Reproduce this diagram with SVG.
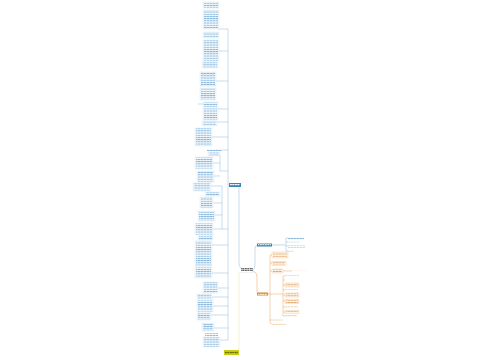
<svg xmlns="http://www.w3.org/2000/svg" width="500" height="360" viewBox="0 0 500 360">
<defs>
<pattern id="tb" x="0" y="0.6" width="3" height="2.2" patternUnits="userSpaceOnUse"><rect x="0" y="0" width="2.6" height="0.9" fill="#7fb1d8"/></pattern>
<pattern id="to" x="0" y="0.6" width="3" height="2.2" patternUnits="userSpaceOnUse"><rect x="0" y="0" width="2.6" height="0.9" fill="#e0a060"/></pattern>
<pattern id="tg" x="0" y="0" width="2.5" height="2" patternUnits="userSpaceOnUse"><rect x="0" y="0" width="2" height="1.4" fill="#666"/></pattern>
<pattern id="ty" x="0" y="0" width="2.5" height="2" patternUnits="userSpaceOnUse"><rect x="0" y="0" width="2" height="1.2" fill="#6a6a00"/></pattern>
<pattern id="tw" x="0" y="0" width="2.5" height="2" patternUnits="userSpaceOnUse"><rect x="0" y="0" width="2" height="1.2" fill="#ffffff"/></pattern>
</defs>
<style>
.bl{fill:#f3f8fc;stroke:#c3dbee;stroke-width:0.3}
.bt{fill:url(#tb)}
.ol{fill:#fff8f0;stroke:#eab27a;stroke-width:0.3}
.ot{fill:url(#to)}
.cb{fill:none;stroke:#8cb8da;stroke-width:0.5}
.co{fill:none;stroke:#e9a45c;stroke-width:0.5}
.cy{fill:none;stroke:#e8e49a;stroke-width:0.5}
</style>
<rect width="500" height="360" fill="#ffffff"/>
<g id="connectors">
<path class="cb" d="M228,29 V340"/>
<path class="cb" d="M218,29 H228 M218,51 H228 M215,81 H228 M198,104 H203 M218,109 H228 M217,122 H228 M212,137 H228 M222,150 H228 M220,155 V171 M213,163 H220 M214,176 H220 M220,171 H228 M211,186 H222 M222,186 V229 M213,203 H222 M215,215 H222 M213,229 H228 M212,245 H228 M212,273 H228 M218,288 H228 M212,297 H228 M213,306 H228 M211,315 H228 M214,328 H228 M220,340 H228"/>
<path class="cb" d="M239,187 V262 Q239,270 245,270"/>
<path class="cy" d="M239,272 V350"/>
<path class="cb" d="M252,270 Q255,270 255,262 V249 Q255,245 258,245"/>
<path class="cb" d="M272,245 H286 M286,238 V251 M286,238 H288 M286,242 H288 M286,246 H288 M286,251 H288"/>
<path class="co" d="M252,271 Q257,271 257,278 V293"/>
<path class="co" d="M268,294 H270 M270,255 V322 M270,255 H272 M270,263 H272 M270,271 H272 M283,271 H292 M270,294 H283 M283,276 V316 M283,276 H285 M283,280 H285 M283,285 H285 M283,290 H285 M283,295 H285 M283,301 H285 M283,307 H285 M283,312 H285 M283,316 H285 M270,320 H272 M270,322 Q270,324 272,324"/>
</g>
<g id="left-blocks">
<g id="b1"><rect class="bl" x="203" y="2" width="16" height="6"/><rect class="bt" x="204" y="2.5" width="14" height="5"/></g>
<g id="b2"><rect class="bl" x="203" y="10" width="16" height="19"/><rect class="bt" x="204" y="10.5" width="14" height="18"/></g>
<g id="b3"><rect class="bl" x="203" y="32" width="16" height="6"/><rect class="bt" x="204" y="32.5" width="14" height="5"/></g>
<g id="b4"><rect class="bl" x="203" y="40" width="16" height="21"/><rect class="bt" x="204" y="40.5" width="14" height="20"/></g>
<g id="b5"><rect class="bl" x="202" y="62" width="16" height="6"/><rect class="bt" x="203" y="62.5" width="14" height="5"/></g>
<g id="b6"><rect class="bl" x="200" y="72" width="16" height="14"/><rect class="bt" x="201" y="72.5" width="14" height="13"/></g>
<g id="b7"><rect class="bl" x="200" y="88" width="16" height="12"/><rect class="bt" x="201" y="88.5" width="14" height="11"/></g>
<g id="b8"><rect class="bl" x="203" y="102" width="15" height="5"/><rect class="bt" x="204" y="102.5" width="13" height="4"/></g>
<g id="b9"><rect class="bl" x="203" y="108" width="15" height="12"/><rect class="bt" x="204" y="108.5" width="13" height="11"/></g>
<g id="b10"><rect class="bl" x="202" y="121" width="15" height="5"/><rect class="bt" x="203" y="121.5" width="13" height="4"/></g>
<g id="b11"><rect class="bl" x="195" y="128" width="17" height="18"/><rect class="bt" x="196" y="128.5" width="15" height="17"/></g>
<g id="b12"><rect class="bt" x="207" y="149" width="15" height="2"/></g>
<g id="b13"><rect class="bl" x="208" y="152" width="12" height="4"/><rect class="bt" x="209" y="152.5" width="10" height="3"/></g>
<g id="b14"><rect class="bl" x="195" y="157" width="18" height="12"/><rect class="bt" x="196" y="157.5" width="16" height="11"/></g>
<g id="b15"><rect class="bl" x="197" y="171" width="17" height="11"/><rect class="bt" x="198" y="171.5" width="15" height="10"/></g>
<g id="b16"><rect class="bl" x="193" y="183" width="18" height="8"/><rect class="bt" x="194" y="183.5" width="16" height="7"/></g>
<g id="b17"><rect class="bl" x="205" y="192" width="15" height="4"/><rect class="bt" x="206" y="192.5" width="13" height="3"/></g>
<g id="b18"><rect class="bl" x="200" y="197" width="13" height="11"/><rect class="bt" x="201" y="197.5" width="11" height="10"/></g>
<g id="b19"><rect class="bl" x="198" y="211" width="17" height="10"/><rect class="bt" x="199" y="211.5" width="15" height="9"/></g>
<g id="b20"><rect class="bl" x="195" y="223" width="18" height="12"/><rect class="bt" x="196" y="223.5" width="16" height="11"/></g>
<g id="b21"><rect class="bl" x="198" y="236" width="15" height="4"/><rect class="bt" x="199" y="236.5" width="13" height="3"/></g>
<g id="b22"><rect class="bl" x="195" y="241" width="17" height="25"/><rect class="bt" x="196" y="241.5" width="15" height="24"/></g>
<g id="b23"><rect class="bl" x="195" y="267" width="17" height="11"/><rect class="bt" x="196" y="267.5" width="15" height="10"/></g>
<g id="b24"><rect class="bl" x="203" y="282" width="15" height="11"/><rect class="bt" x="204" y="282.5" width="13" height="10"/></g>
<g id="b25"><rect class="bl" x="197" y="294" width="15" height="5"/><rect class="bt" x="198" y="294.5" width="13" height="4"/></g>
<g id="b26"><rect class="bl" x="197" y="300" width="16" height="12"/><rect class="bt" x="198" y="300.5" width="14" height="11"/></g>
<g id="b27"><rect class="bl" x="197" y="313" width="14" height="7"/><rect class="bt" x="198" y="313.5" width="12" height="6"/></g>
<g id="b28"><rect class="bl" x="202" y="323" width="12" height="8"/><rect class="bt" x="203" y="323.5" width="10" height="7"/></g>
<g id="b29"><rect class="bt" x="205" y="333" width="13" height="3"/></g>
<g id="b30"><rect class="bl" x="203" y="337" width="17" height="10"/><rect class="bt" x="204" y="337.5" width="15" height="9"/></g>
</g>
<g id="node-left-root"><rect x="229" y="183" width="12" height="4" fill="#3a86b0"/><rect x="230" y="184" width="10" height="2" fill="url(#tw)"/></g>
<g id="node-center"><rect x="241" y="268" width="12" height="3" fill="url(#tg)"/><path d="M240,272.5 H255" stroke="#dddddd" stroke-width="0.4"/></g>
<g id="node-bottom"><rect x="224" y="350" width="15" height="5" fill="#c9cc17"/><rect x="225" y="351.5" width="13" height="2.4" fill="url(#ty)"/></g>
<g id="node-right-blue"><rect x="257" y="243.5" width="15" height="3" fill="#3a86b0"/><rect x="258" y="244.2" width="13" height="1.6" fill="url(#tw)"/></g>
<g id="right-blue-children">
<rect class="bt" x="273" y="244" width="11" height="1"/>
<rect class="bt" x="288" y="237.5" width="16" height="2"/>
<rect class="bt" x="288" y="241.5" width="12" height="1"/>
<rect class="bt" x="288" y="245.5" width="17" height="2"/>
<rect class="bt" x="288" y="250.5" width="6" height="1"/>
</g>
<g id="node-right-orange"><rect x="257" y="292.5" width="11" height="3" fill="#e08a2a"/><rect x="258" y="293.2" width="9" height="1.6" fill="url(#tw)"/></g>
<g id="orange-children">
<rect class="ol" x="272" y="252" width="16" height="6"/><rect class="ot" x="273" y="252.5" width="14" height="5"/>
<rect class="ol" x="272" y="261.5" width="14" height="4"/><rect class="ot" x="273" y="262" width="12" height="3"/>
<rect class="ol" x="272" y="269" width="11" height="4"/><rect class="ot" x="273" y="269.5" width="9" height="3"/>
<rect class="ot" x="292" y="270" width="15" height="1"/>
<rect class="ot" x="285" y="275" width="14" height="1"/>
<rect class="ot" x="285" y="279" width="13" height="1"/>
<rect class="ol" x="285" y="283" width="14" height="4"/><rect class="ot" x="286" y="283.5" width="12" height="3"/>
<rect class="ot" x="285" y="289.5" width="13" height="1"/>
<rect class="ol" x="285" y="293" width="14" height="4"/><rect class="ot" x="286" y="293.5" width="12" height="3"/>
<rect class="ol" x="285" y="299.5" width="14" height="4"/><rect class="ot" x="286" y="300" width="12" height="3"/>
<rect class="ot" x="285" y="306.5" width="13" height="1"/>
<rect class="ol" x="285" y="310.5" width="14" height="3"/><rect class="ot" x="286" y="311" width="12" height="2"/>
<rect class="ot" x="285" y="315.5" width="12" height="1"/>
<rect class="ot" x="272" y="319.5" width="11" height="1"/>
<rect class="ot" x="272" y="323.5" width="14" height="1"/>
</g>
</svg>
